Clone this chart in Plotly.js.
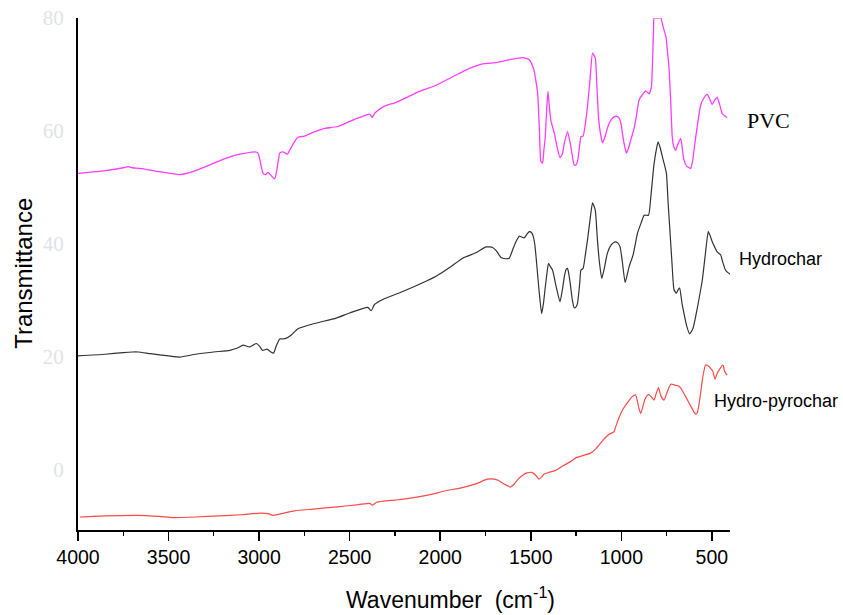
<!DOCTYPE html>
<html>
<head>
<meta charset="utf-8">
<script src="https://cdn.plot.ly/plotly-3.0.1.min.js"></script>
<style>html,body{margin:0;padding:0;background:#fff;}#chart{width:843px;height:615px;}</style>
</head>
<body>
<div id="chart"></div>
<script>
// ---- Data (wavenumber cm^-1, transmittance) ----
const pvcX = [4000,3850,3750,3723,3700,3658,3550,3438,3350,3272,3200,3125,3024,3006,2990,2978,2965,2951,2930,2914,2900,2886,2870,2859,2844,2831,2810,2786,2749,2700,2648,2565,2500,2445,2390,2375,2365,2353,2308,2250,2207,2115,2023,1931,1839,1766,1692,1619,1545,1508,1490,1481,1470,1462,1452,1444,1435,1428,1420,1412,1405,1398,1389,1370,1355,1339,1325,1315,1297,1282,1270,1260,1250,1242,1230,1223,1211,1200,1187,1172,1159,1144,1135,1126,1115,1104,1090,1077,1060,1040,1025,1012,1000,994,983,972,960,948,929,915,902,880,865,847,834,828,822,819,800,782,770,754,745,736,727,719,710,700,690,672,660,654,640,625,617,605,599,580,562,545,526,510,498,484,471,458,443,430,416];
const pvcY = [52.5,53.0,53.5,53.7,53.5,53.4,52.8,52.3,53.0,54.0,55.0,55.8,56.3,56.1,54.0,52.5,52.3,52.7,52.0,51.5,53.5,56.1,56.3,56.2,55.9,56.6,57.8,58.9,59.1,59.8,60.4,60.8,61.7,62.4,63.0,62.4,63.0,63.4,64.4,65.0,65.6,67.0,68.1,69.6,71.1,71.9,72.1,72.6,73.0,72.6,71.5,70.6,68.5,66.7,60.0,54.6,54.3,56.5,59.0,64.0,67.0,64.5,61.9,59.6,57.2,55.3,56.0,57.8,59.9,57.8,55.5,54.0,54.0,54.6,57.5,59.0,59.1,61.0,64.3,69.5,73.8,72.9,68.0,62.5,59.5,57.9,59.0,60.5,61.8,62.5,62.6,62.3,61.0,59.6,57.5,56.1,57.0,58.4,60.5,63.0,65.5,66.6,67.1,66.6,67.8,72.0,78.0,80.0,80.0,80.0,78.5,76.7,74.0,70.8,65.0,59.0,57.2,56.6,57.5,58.7,56.0,54.9,53.8,53.5,53.4,55.0,56.6,61.0,64.6,65.8,66.5,65.5,64.7,65.5,66.0,64.8,63.1,62.7,62.4];

const hydroX = [4000,3850,3750,3700,3668,3600,3500,3438,3350,3250,3162,3120,3089,3052,3015,2995,2982,2956,2935,2920,2905,2886,2870,2853,2822,2786,2700,2574,2500,2400,2381,2363,2317,2207,2100,2023,1950,1876,1800,1747,1711,1690,1664,1640,1619,1600,1582,1563,1554,1536,1520,1508,1495,1486,1478,1471,1455,1440,1430,1420,1410,1402,1392,1380,1360,1339,1325,1315,1305,1297,1289,1282,1270,1260,1250,1242,1230,1223,1211,1200,1187,1172,1159,1144,1132,1120,1108,1092,1077,1055,1034,1020,1007,995,979,968,957,935,911,890,874,850,837,820,805,797,785,769,760,751,742,732,720,709,696,685,678,665,654,640,623,605,590,570,553,535,520,510,498,485,471,452,440,425,410,395];
const hydroY = [20.2,20.5,20.8,20.9,20.9,20.6,20.2,20.0,20.5,20.9,21.2,21.6,22.1,21.8,22.4,21.8,21.2,21.4,20.9,20.7,22.0,23.2,23.2,23.3,23.9,25.0,25.9,26.9,27.8,28.8,28.2,29.3,30.2,31.6,33.1,34.3,35.8,37.5,38.5,39.5,39.4,38.8,37.6,37.4,37.5,39.0,40.4,41.4,41.3,41.1,41.8,42.2,42.0,41.3,40.0,37.8,32.0,27.7,29.5,32.4,35.0,36.6,36.0,35.4,32.5,29.8,32.0,34.2,35.5,35.7,34.5,33.0,30.0,28.7,28.9,29.5,33.0,35.4,35.7,37.8,40.7,44.5,47.3,46.0,40.7,36.5,33.9,36.0,38.4,39.9,40.4,40.2,39.5,37.0,33.2,34.5,36.0,38.1,41.9,43.8,45.1,45.1,48.4,54.0,57.0,58.1,57.0,54.9,53.8,52.5,47.5,42.5,36.5,31.9,31.3,32.0,32.2,29.5,27.7,25.6,24.1,25.0,27.1,30.5,33.6,38.5,42.2,41.5,40.4,39.5,38.6,38.1,36.8,35.4,34.9,34.6];

const pyroX = [3990,3850,3670,3550,3473,3350,3217,3100,2991,2950,2922,2863,2804,2700,2567,2450,2390,2374,2351,2250,2174,2050,1977,1878,1800,1740,1700,1681,1650,1612,1595,1570,1544,1520,1494,1470,1455,1440,1426,1400,1367,1320,1280,1249,1210,1170,1140,1101,1070,1040,1031,1010,994,960,940,921,905,893,870,850,830,819,808,795,780,764,745,727,710,700,685,672,645,620,590,580,565,550,535,520,507,495,483,470,460,443,437,430,416];
const pyroY = [-8.3,-8.1,-8.0,-8.2,-8.4,-8.3,-8.1,-7.9,-7.6,-7.7,-8.0,-7.6,-7.2,-6.9,-6.5,-6.1,-5.9,-6.2,-5.7,-5.3,-5.0,-4.3,-3.7,-3.1,-2.4,-1.6,-1.6,-1.8,-2.4,-3.0,-2.6,-1.6,-0.9,-0.5,-0.4,-1.0,-1.6,-1.2,-0.7,-0.4,-0.1,0.8,1.5,2.2,2.6,3.0,3.8,5.3,6.3,6.8,7.7,9.5,10.6,12.2,13.0,13.3,11.2,10.0,12.5,13.4,12.8,12.4,13.5,14.6,13.0,12.4,14.0,15.2,15.1,15.0,14.9,14.5,13.0,11.5,9.9,10.2,13.0,16.5,18.6,18.4,18.0,17.5,16.1,17.2,17.7,18.5,18.5,17.5,16.8];

const xTickVals = [4000,3500,3000,2500,2000,1500,1000,500];
const yTickVals = [0,20,40,60,80];
const seriesNames = ['PVC','Hydrochar','Hydro-pyrochar'];

const lineShape = {shape:'spline', smoothing:0.5};
const traces = [
  {x:pvcX, y:pvcY, name:seriesNames[0], mode:'lines', line:Object.assign({color:'#ff3cff', width:1.3}, lineShape)},
  {x:hydroX, y:hydroY, name:seriesNames[1], mode:'lines', line:Object.assign({color:'#333333', width:1.2}, lineShape)},
  {x:pyroX, y:pyroY, name:seriesNames[2], mode:'lines', line:Object.assign({color:'#ff4a4a', width:1.2}, lineShape)}
];

const layout = {
  width:843, height:615,
  margin:{l:78, r:113, t:18, b:85},
  paper_bgcolor:'#ffffff', plot_bgcolor:'#ffffff',
  showlegend:false,
  xaxis:{
    range:[4000,400], showgrid:false, zeroline:false,
    showline:true, linecolor:'#000', linewidth:2,
    ticks:'outside', ticklen:9, tickwidth:1.5, tickcolor:'#000',
    tickmode:'array', tickvals:xTickVals, ticktext:xTickVals.map(String),
    tickfont:{family:'Liberation Sans, Arial, sans-serif', size:19.5, color:'#000'},
    minor:{dtick:250, tick0:0, ticks:'outside', ticklen:4, tickwidth:1.2, tickcolor:'#000', showgrid:false}
  },
  yaxis:{
    range:[-10.6,80], showgrid:false, zeroline:false,
    showline:true, linecolor:'#000', linewidth:2,
    ticks:'', tickmode:'array', tickvals:yTickVals, ticktext:yTickVals.map(String),
    tickfont:{family:'Liberation Serif, Times New Roman, serif', size:21, color:'#e2e2ea'},
    ticklabelstandoff:8
  },
  annotations:[
    {xref:'paper', yref:'paper', x:1.023, y:0.80, xanchor:'left', yanchor:'middle', showarrow:false,
     text:seriesNames[0], font:{family:'Liberation Serif, Times New Roman, serif', size:22, color:'#000'}},
    {xref:'paper', yref:'paper', x:1.011, y:0.529, xanchor:'left', yanchor:'middle', showarrow:false,
     text:seriesNames[1], font:{family:'Liberation Sans, Arial, sans-serif', size:18, color:'#000'}},
    {xref:'paper', yref:'paper', x:0.972, y:0.252, xanchor:'left', yanchor:'middle', showarrow:false,
     text:seriesNames[2], font:{family:'Liberation Sans, Arial, sans-serif', size:18, color:'#000'}},
    {xref:'paper', yref:'paper', x:0.572, y:-0.133, xanchor:'center', yanchor:'middle', showarrow:false,
     text:'Wavenumber\u00A0\u00A0(cm<sup>-1</sup>)', font:{family:'Liberation Sans, Arial, sans-serif', size:23, color:'#000'}},
    {xref:'paper', yref:'paper', x:-0.083, y:0.502, xanchor:'center', yanchor:'middle', showarrow:false, textangle:-90,
     text:'Transmittance', font:{family:'Liberation Sans, Arial, sans-serif', size:24, color:'#000'}}
  ]
};

Plotly.newPlot('chart', traces, layout, {displayModeBar:false, staticPlot:true});
</script>
</body>
</html>
